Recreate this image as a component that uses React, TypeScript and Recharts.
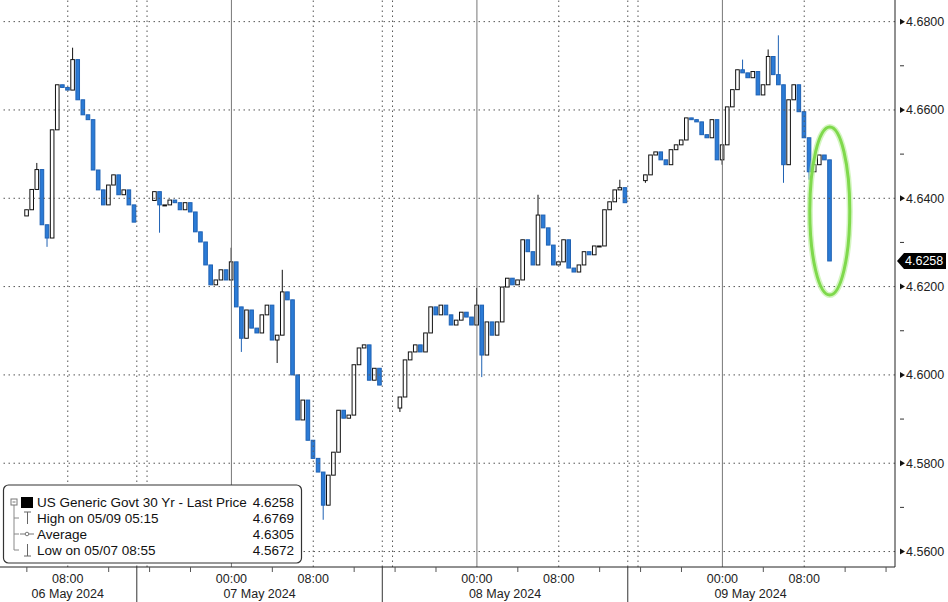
import React from "react";
import { ComposedChart, Bar, XAxis, YAxis, ReferenceLine, ReferenceDot } from "recharts";

// hours are counted from 06 May 2024 00:00; one candle per 30 minutes
const SESSION_STARTS = [4.0, 16.5, 40.5, 64.5];
const SESSION_FIRST_OPENS = [4.636, 4.6395, 4.5925, 4.644];

const CLOSES_06 = [
  4.6374, 4.642, 4.6465, 4.634, 4.631, 4.6555, 4.6657, 4.6651, 4.6645, 4.6714, 4.6623,
  4.6589, 4.6578, 4.6464, 4.6419, 4.6385, 4.643, 4.6453, 4.6408, 4.6419, 4.6385, 4.6346,
];
const CLOSES_07 = [
  4.6415, 4.6385, 4.6385, 4.6396, 4.639, 4.6374, 4.639, 4.6369, 4.6324, 4.6301, 4.6249,
  4.6204, 4.6215, 4.6238, 4.6215, 4.6256, 4.6154, 4.6083, 4.6147, 4.6106, 4.6095, 4.6136,
  4.6158, 4.6079, 4.609, 4.6188, 4.617, 4.6, 4.5898, 4.5943, 4.5852, 4.5811, 4.578,
  4.5705, 4.5773, 4.5825, 4.592, 4.5902, 4.5909, 4.6023, 4.6061, 4.6068, 4.5988, 4.6015, 4.5977,
];
const CLOSES_08 = [
  4.595, 4.6034, 4.6052, 4.6068, 4.6052, 4.6095, 4.6154, 4.6136, 4.6158, 4.6136, 4.6113,
  4.6124, 4.6142, 4.6131, 4.6113, 4.6158, 4.6045, 4.612, 4.609, 4.612, 4.6199, 4.6219,
  4.6204, 4.6215, 4.6306, 4.6279, 4.6249, 4.6362, 4.6333, 4.6294, 4.6249, 4.6256, 4.6306,
  4.6242, 4.6233, 4.6249, 4.6279, 4.6272, 4.6292, 4.6292, 4.6374, 4.6392, 4.6419, 4.6424, 4.639,
];
const CLOSES_09 = [
  4.6453, 4.6498, 4.6505, 4.6487, 4.6476, 4.651, 4.6521, 4.6532, 4.6582, 4.6578, 4.6573,
  4.6544, 4.6537, 4.6578, 4.6487, 4.6521, 4.6607, 4.6646, 4.6691, 4.6684, 4.6673, 4.6687,
  4.6634, 4.6657, 4.6721, 4.668, 4.6657, 4.6476, 4.6623, 4.6657, 4.6596, 4.6537, 4.646,
  4.6476, 4.6498, 4.6487, 4.6258,
];
const SESSIONS = [CLOSES_06, CLOSES_07, CLOSES_08, CLOSES_09];

// [hour, value] extremes that reach beyond the candle body
const WICK_HIGHS: [number, number][] = [
  [5.0, 4.648], [8.5, 4.6741], [24.0, 4.6288], [29.0, 4.6238], [48.0, 4.6197],
  [54.0, 4.6408], [62.0, 4.6442], [74.0, 4.6714], [76.5, 4.6737], [77.5, 4.6769],
];
const WICK_LOWS: [number, number][] = [
  [6.0, 4.629], [17.0, 4.6322], [25.0, 4.6052], [28.5, 4.6027], [33.0, 4.5672],
  [40.5, 4.5916], [48.5, 4.5995], [64.5, 4.6435], [72.0, 4.6476], [78.0, 4.6435], [80.5, 4.6442],
];

const AXIS_FIRST_SLOT = 6; // 01:30 on 06 May, in 15-minute slots
const AXIS_SLOTS = 350;
const Y_MIN = 4.5565;
const Y_MAX = 4.6849;
const Y_TICKS = [4.56, 4.57, 4.58, 4.59, 4.6, 4.61, 4.62, 4.63, 4.64, 4.65, 4.66, 4.67, 4.68];
const Y_GRID = [4.56, 4.58, 4.6, 4.62, 4.64, 4.66, 4.68];
const MORNINGS = [8, 32, 56, 80];
const MIDNIGHTS = [24, 48, 72];
const SESSION_BREAKS = [14.75, 38.75, 62.75];
const SESSION_REOPENS = [15.75, 39.75, 63.75];
const HOUR_TICKS = [4, 8, 12, 16, 20, 24, 28, 32, 36, 40, 44, 48, 52, 56, 60, 64, 68, 72, 76, 80, 84, 88];
const DAY_LABELS = ["06 May 2024", "07 May 2024", "08 May 2024", "09 May 2024"];
const DAY_LABEL_HOURS = [8, 26.75, 50.75, 74.75];

const LEGEND_ROWS = [
  { label: "US Generic Govt 30 Yr - Last Price", value: "4.6258" },
  { label: "High on 05/09 05:15", value: "4.6769" },
  { label: "Average", value: "4.6305" },
  { label: "Low on 05/07 08:55", value: "4.5672" },
];

const LAST_PRICE = CLOSES_09[CLOSES_09.length - 1];
const BLUE = "#2b7bd6";
const FONT = "'Liberation Sans', Arial, sans-serif";

function buildRows() {
  const candles = new Map<number, { open: number; close: number; high: number; low: number }>();
  SESSIONS.forEach((closes, k) => {
    closes.forEach((close, i) => {
      const h = SESSION_STARTS[k] + i * 0.5;
      const open = i === 0 ? SESSION_FIRST_OPENS[k] : closes[i - 1];
      candles.set(Math.round(h * 4), { open, close, high: Math.max(open, close), low: Math.min(open, close) });
    });
  });
  WICK_HIGHS.forEach(([h, v]) => {
    const c = candles.get(Math.round(h * 4));
    if (c) c.high = Math.max(c.high, v);
  });
  WICK_LOWS.forEach(([h, v]) => {
    const c = candles.get(Math.round(h * 4));
    if (c) c.low = Math.min(c.low, v);
  });
  const rows = [];
  for (let j = 0; j < AXIS_SLOTS; j++) {
    const slot = AXIS_FIRST_SLOT + j;
    const c = candles.get(slot);
    rows.push(c ? { h: slot / 4, ...c, range: [c.low, c.high] } : { h: slot / 4, range: null });
  }
  return rows;
}

const data = buildRows();

function Candle(props: any) {
  const { x, width, payload } = props;
  let { y, height } = props;
  if (!payload || payload.open == null || !isFinite(y) || !isFinite(height)) return <g />;
  if (height < 0) {
    y += height;
    height = -height;
  }
  const { open, close, high, low } = payload;
  const cx = x + width / 2;
  const k = high > low ? height / (high - low) : 0;
  const yOf = (v: number) => y + (high - v) * k;
  const up = close >= open;
  const top = yOf(Math.max(open, close));
  const bot = yOf(Math.min(open, close));
  const edge = up ? "#111" : "#1f62b4";
  return (
    <g>
      <line x1={cx} x2={cx} y1={y} y2={y + height} stroke={edge} strokeWidth={1} />
      <rect
        x={cx - 1.8}
        y={top}
        width={3.6}
        height={Math.max(bot - top, 1)}
        fill={up ? "#fff" : BLUE}
        stroke={edge}
        strokeWidth={1}
      />
    </g>
  );
}

function XTick(props: any) {
  const { x, y, payload } = props;
  const h = payload.value as number;
  const dayIdx = DAY_LABEL_HOURS.indexOf(h);
  const labelled = h % 24 === 0 || h % 24 === 8;
  return (
    <g>
      {SESSION_BREAKS.includes(h) && <line x1={x} x2={x} y1={y} y2={y + 36} stroke="#333" strokeWidth={1} />}
      {HOUR_TICKS.includes(h) && !labelled && <line x1={x} x2={x} y1={y} y2={y + 5} stroke="#555" strokeWidth={1} />}
      {HOUR_TICKS.includes(h) && labelled && (
        <text x={x} y={y + 16} textAnchor="middle" fontSize={12.5} fill="#222" fontFamily={FONT}>
          {h % 24 === 0 ? "00:00" : "08:00"}
        </text>
      )}
      {dayIdx >= 0 && (
        <text x={x} y={y + 31} textAnchor="middle" fontSize={12.5} fill="#222" fontFamily={FONT}>
          {DAY_LABELS[dayIdx]}
        </text>
      )}
    </g>
  );
}

function YTick(props: any) {
  const { x, y, payload } = props;
  const v = payload.value as number;
  const major = Math.round(v * 100) % 2 === 0;
  if (!major) return <line x1={x + 5} x2={x + 9} y1={y} y2={y} stroke="#333" strokeWidth={1} />;
  return (
    <g>
      <path d={`M${x + 5},${y - 3} L${x + 10},${y} L${x + 5},${y + 3} Z`} fill="#111" />
      <text x={x + 11} y={y} dy="0.36em" fontSize={12.5} fill="#222" fontFamily={FONT}>
        {v.toFixed(4)}
      </text>
    </g>
  );
}

function LastTag(props: any) {
  const vb = props.viewBox || {};
  const ax = vb.x + vb.width;
  const y = vb.y;
  return (
    <g>
      <path d={`M${ax + 2},${y} L${ax + 9},${y - 8} L${ax + 51},${y - 8} L${ax + 51},${y + 8} L${ax + 9},${y + 8} Z`} fill="#000" />
      <text x={ax + 10} y={y} dy="0.36em" fontSize={12.5} fill="#fff" fontFamily={FONT}>
        {LAST_PRICE.toFixed(4)}
      </text>
    </g>
  );
}

function Ellipse(props: any) {
  const { cx, cy } = props;
  return (
    <g>
      <ellipse cx={cx} cy={cy} rx={20} ry={84} fill="none" stroke="#b8ef98" strokeWidth={6} opacity={0.6} />
      <ellipse cx={cx} cy={cy} rx={20} ry={84} fill="none" stroke="#7fd94c" strokeWidth={3} />
    </g>
  );
}

function Legend() {
  const rowY = [502, 518, 534, 550];
  return (
    <svg width={948} height={602} style={{ position: "absolute", left: 0, top: 0, pointerEvents: "none" }}>
      <rect x={3.5} y={485} width={298} height={78} rx={5} fill="#fff" stroke="#333" strokeWidth={1.2} />
      <line x1={14} x2={14} y1={505} y2={rowY[3]} stroke="#888" />
      {rowY.slice(1).map((ry) => (
        <line key={ry} x1={14} x2={19} y1={ry} y2={ry} stroke="#888" />
      ))}
      <rect x={11} y={499} width={6} height={6} fill="#fff" stroke="#777" />
      <line x1={12.5} x2={15.5} y1={502} y2={502} stroke="#777" />
      <rect x={21} y={497} width={12} height={11} fill="#000" />
      <line x1={24} x2={31} y1={512} y2={512} stroke="#666" />
      <line x1={27.5} x2={27.5} y1={512} y2={524} stroke="#666" />
      <line x1={20} x2={34} y1={534} y2={534} stroke="#777" />
      <circle cx={27} cy={534} r={1.8} fill="#fff" stroke="#777" />
      <line x1={27.5} x2={27.5} y1={544} y2={556} stroke="#666" />
      <line x1={24} x2={31} y1={556} y2={556} stroke="#666" />
      {LEGEND_ROWS.map((r, i) => (
        <g key={r.label}>
          <text x={37} y={rowY[i]} dy="0.36em" fontSize={13.5} fill="#111" fontFamily={FONT}>
            {r.label}
          </text>
          <text x={294} y={rowY[i]} dy="0.36em" textAnchor="end" fontSize={13.5} fill="#111" fontFamily={FONT}>
            {r.value}
          </text>
        </g>
      ))}
    </svg>
  );
}

export default function App() {
  const xTicks = [...HOUR_TICKS, ...SESSION_BREAKS, ...DAY_LABEL_HOURS.slice(1)].sort((a, b) => a - b);
  return (
    <div style={{ position: "absolute", left: 0, top: 0, width: 948, height: 602, background: "#fff", fontFamily: FONT }}>
      <ComposedChart width={948} height={602} data={data} margin={{ top: 0, right: 0, bottom: 0, left: 0 }}>
        <XAxis
          dataKey="h"
          type="category"
          ticks={xTicks}
          interval={0}
          height={35}
          tickLine={false}
          tickSize={0}
          tickMargin={0}
          axisLine={{ stroke: "#222" }}
          tick={<XTick />}
        />
        <YAxis
          orientation="right"
          width={53}
          type="number"
          domain={[Y_MIN, Y_MAX]}
          allowDataOverflow
          ticks={Y_TICKS}
          interval={0}
          tickLine={false}
          tickSize={0}
          tickMargin={0}
          axisLine={{ stroke: "#222" }}
          tick={<YTick />}
        />
        {Y_GRID.map((v) => (
          <ReferenceLine key={"hy" + v} y={v} stroke="#555" strokeDasharray="1.5 3.5" />
        ))}
        {[...MORNINGS, ...SESSION_BREAKS, ...SESSION_REOPENS].map((h) => (
          <ReferenceLine key={"vx" + h} x={h} stroke="#555" strokeDasharray="1.5 3.5" />
        ))}
        {MIDNIGHTS.map((h) => (
          <ReferenceLine key={"mx" + h} x={h} stroke="#777" />
        ))}
        <Bar dataKey="range" barSize={2} shape={<Candle />} isAnimationActive={false} />
        <ReferenceLine y={LAST_PRICE} stroke="none" label={<LastTag />} />
        <ReferenceDot x={82.5} y={4.6371} r={0} shape={<Ellipse />} />
      </ComposedChart>
      <Legend />
    </div>
  );
}
